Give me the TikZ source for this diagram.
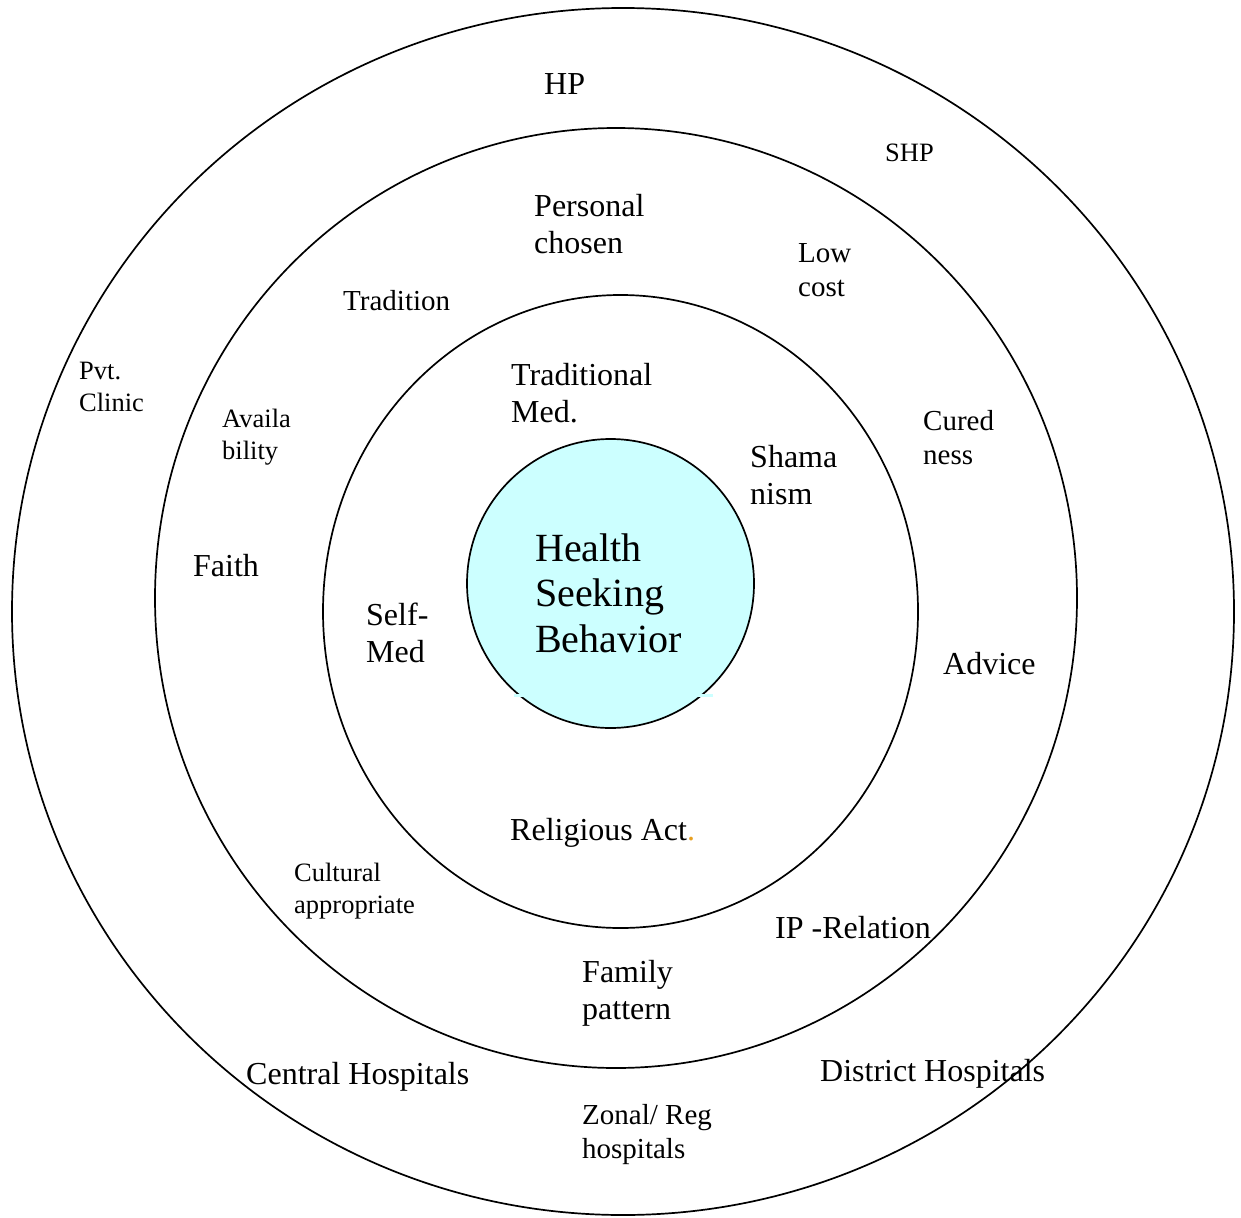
\documentclass[tikz,border=0pt]{standalone}
\usepackage{fontspec}
\setmainfont{Liberation Serif}
\definecolor{hsbfill}{HTML}{CCFFFF}
\definecolor{dotc}{HTML}{E8A020}
\begin{document}
\begin{tikzpicture}[x=1pt,y=-1pt,
  ring/.style={draw=black,line width=1.7pt},
  lbl/.style={anchor=west,inner sep=0pt,align=left,font=\fontsize{32}{37}\selectfont},
  mdl/.style={anchor=west,inner sep=0pt,align=left,font=\fontsize{29}{34}\selectfont},
  sml/.style={anchor=west,inner sep=0pt,align=left,font=\fontsize{26.5}{32}\selectfont},
  big/.style={anchor=west,inner sep=0pt,align=left,font=\fontsize{40}{45.5}\selectfont}]
\useasboundingbox (0,0) rectangle (1241,1217);
% rings
\draw[ring] (623,611.5) ellipse [x radius=611pt, y radius=603.5pt];
\draw[ring] (616,598) ellipse [x radius=461pt, y radius=470pt];
\draw[ring] (620.5,611.5) ellipse [x radius=297.5pt, y radius=316.5pt];
\draw[ring,fill=hsbfill] (610.5,583.5) ellipse [x radius=143.5pt, y radius=144.5pt];
\fill[hsbfill] (514,694) rectangle (713,697);
% outer ring labels
\node[lbl] (hp) at (544,84) {HP};
\node[sml] (shp) at (885,153) {SHP};
\node[sml] (pvt) at (79,387) {Pvt.\\Clinic};
\node[lbl] (central) at (246,1077) {Central Hospitals};
\node[lbl] (district) at (820,1074) {District Hospitals};
\node[mdl] (zonal) at (582,1135) {Zonal/ Reg\\hospitals};
% second ring labels
\node[lbl] (personal) at (534,224) {Personal\\chosen};
\node[mdl] (lowcost) at (798,270) {Low\\cost};
\node[mdl] (tradition) at (343,301) {Tradition};
\node[sml] (avail) at (222,437) {Availa\\bility};
\node[mdl] (cured) at (923,438) {Cured\\ness};
\node[lbl] (faith) at (193,566) {Faith};
\node[lbl] (advice) at (943,664) {Advice};
\node[sml] (cultural) at (294,891) {Cultural\\appropriate};
\node[lbl] (iprel) at (775,928) {IP -Relation};
\node[lbl] (family) at (582,993) {Family\\pattern};
% third ring labels
\node[lbl] (tradmed) at (511,393) {Traditional\\Med.};
\node[lbl] (shaman) at (750,475) {Shama\\nism};
\node[lbl] (selfmed) at (366,633) {Self-\\Med};
\node[lbl] (religious) at (510,833) {Religious Act\textcolor{dotc}{.}};
% centre
\node[big] (hsb) at (535,593) {Health\\Seeking\\Behavior};
\end{tikzpicture}
\end{document}
